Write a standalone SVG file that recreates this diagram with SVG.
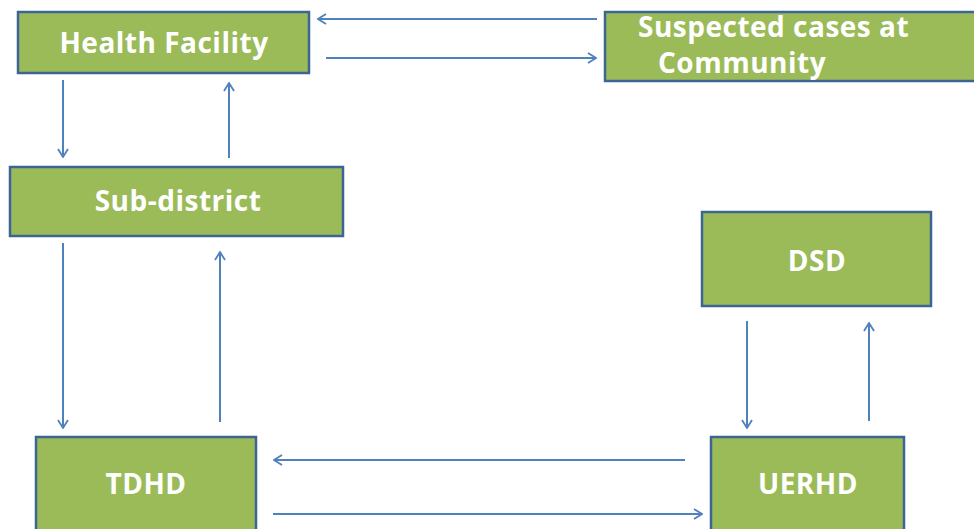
<svg xmlns="http://www.w3.org/2000/svg" width="974" height="529" viewBox="0 0 974 529">
<defs>
<marker id="ah" viewBox="0 0 10 12" refX="9" refY="6" markerWidth="10" markerHeight="12" markerUnits="userSpaceOnUse" orient="auto">
<path d="M1,1 L9,6 L1,11" fill="none" stroke="#4F81BD" stroke-width="1.8"/>
</marker>
</defs>
<style>
.box{fill:#9BBB59;stroke:#3D6594;stroke-width:2.5}
.lbl{font-family:"Open Sans","Liberation Sans",sans-serif;font-weight:bold;font-size:28px;letter-spacing:0.5px;fill:#FFFFFF}
.c{fill:none;stroke:#4F81BD;stroke-width:2;marker-end:url(#ah)}
</style>
<rect width="974" height="529" fill="#FFFFFF"/>
<g id="health-facility">
<rect class="box" x="18" y="12" width="291" height="61"/>
<text class="lbl" x="164" y="53" text-anchor="middle">Health Facility</text>
</g>
<g id="suspected-cases">
<rect class="box" x="605" y="12" width="372" height="69"/>
<text class="lbl" x="638" y="37">Suspected cases at</text>
<text class="lbl" x="658" y="73">Community</text>
</g>
<g id="sub-district">
<rect class="box" x="10" y="167" width="333" height="69"/>
<text class="lbl" x="178" y="211" text-anchor="middle">Sub-district</text>
</g>
<g id="dsd">
<rect class="box" x="702" y="212" width="229" height="94"/>
<text class="lbl" x="817" y="271" text-anchor="middle">DSD</text>
</g>
<g id="tdhd">
<rect class="box" x="36" y="437" width="220" height="96"/>
<text class="lbl" x="146" y="494" text-anchor="middle">TDHD</text>
</g>
<g id="uerhd">
<rect class="box" x="711" y="437" width="193" height="96"/>
<text class="lbl" x="808" y="494" text-anchor="middle">UERHD</text>
</g>
<g id="connectors">
<line class="c" x1="597" y1="19" x2="318" y2="19"/>
<line class="c" x1="326" y1="58" x2="596" y2="58"/>
<line class="c" x1="63" y1="80" x2="63" y2="157"/>
<line class="c" x1="229" y1="158" x2="229" y2="83"/>
<line class="c" x1="63" y1="243" x2="63" y2="428"/>
<line class="c" x1="220" y1="422" x2="220" y2="252"/>
<line class="c" x1="685" y1="460" x2="274" y2="460"/>
<line class="c" x1="273" y1="514" x2="702" y2="514"/>
<line class="c" x1="747" y1="321" x2="747" y2="428"/>
<line class="c" x1="869" y1="421" x2="869" y2="323"/>
</g>
</svg>
